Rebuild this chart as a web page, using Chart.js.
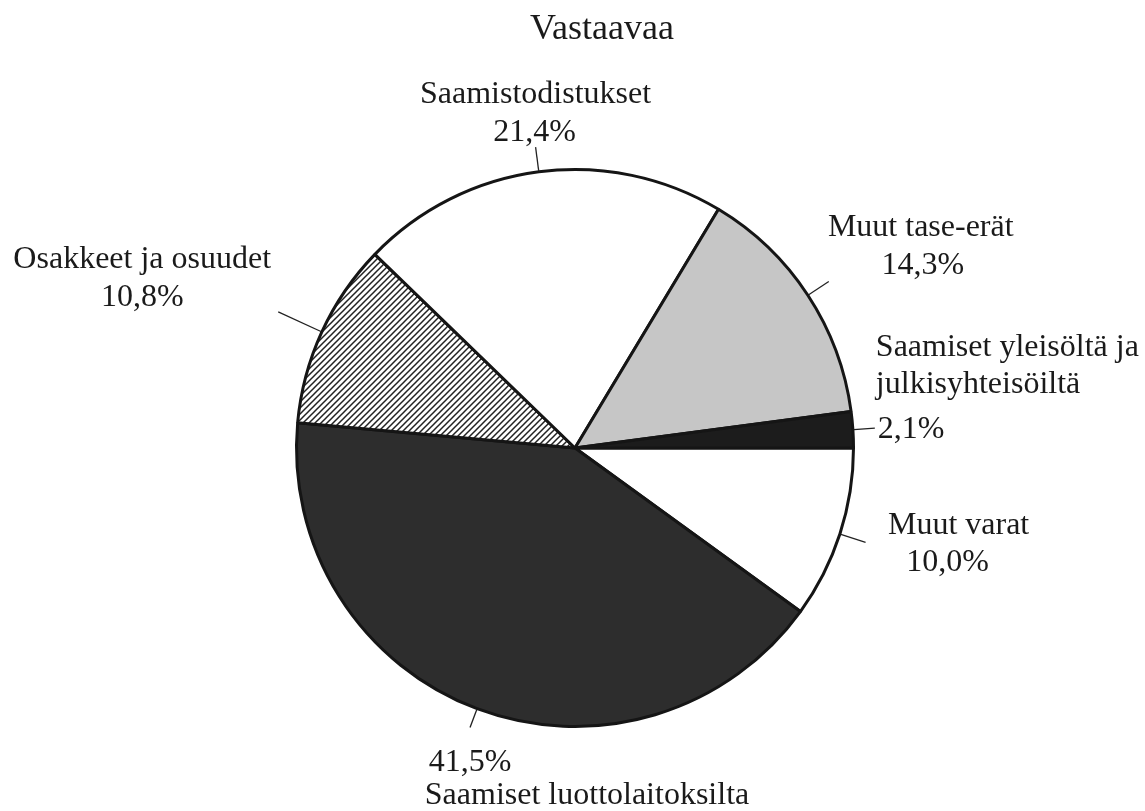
<!doctype html>
<html lang="fi">
    <head>
        <meta charset="UTF-8" />
        <title>Vastaavaa</title>
        <script src="https://cdn.jsdelivr.net/npm/chart.js"></script>
        <style>
            body { margin: 0; background: #fff; }
        </style>
    </head>

    <body>
        <canvas id="pie" width="1145" height="811"></canvas>
        <script>
            // clockwise from 3 o'clock
            const categories = [
                'Muut varat',
                'Saamiset luottolaitoksilta',
                'Osakkeet ja osuudet',
                'Saamistodistukset',
                'Muut tase-erät',
                'Saamiset yleisöltä ja julkisyhteisöiltä',
            ]
            const values = [10.0, 41.5, 10.8, 21.4, 14.3, 2.1]

            // how each label is broken into lines ('%' = the value)
            const labelLines = [
                ['Muut varat', '%'],
                ['%', 'Saamiset luottolaitoksilta'],
                ['Osakkeet ja osuudet', '%'],
                ['Saamistodistukset', '%'],
                ['Muut tase-erät', '%'],
                ['Saamiset yleisöltä ja', 'julkisyhteisöiltä', '%'],
            ]

            // leader length and per-line text offsets from the leader end
            const leaderLen = [27, 20, 48, 25, 25, 22]
            const lineOffsets = [
                [[93, -8], [82, 29]],
                [[0, 44], [117, 77]],
                [[-136, -44], [-136, -6]],
                [[0, -44], [-1, -6]],
                [[92, -46], [94, -8]],
                [[1, -72], [1, -35], [3, 10]],
            ]
            const lineAlign = ['center', 'center', 'center', 'center', 'center', 'left']

            function hatch() {
                const c = document.createElement('canvas')
                c.width = 6
                c.height = 6
                const g = c.getContext('2d')
                g.fillStyle = '#fff'
                g.fillRect(0, 0, 6, 6)
                g.strokeStyle = '#222'
                g.lineWidth = 1.5
                g.beginPath()
                g.moveTo(-1, 7)
                g.lineTo(7, -1)
                g.moveTo(-4, 4)
                g.lineTo(4, -4)
                g.moveTo(2, 10)
                g.lineTo(10, 2)
                g.stroke()
                return document.getElementById('pie').getContext('2d').createPattern(c, 'repeat')
            }

            const fills = ['#ffffff', '#2d2d2d', hatch(), '#ffffff', '#c6c6c6', '#1c1c1c']

            const fmt = (v) => v.toFixed(1).replace('.', ',') + '%'

            const labelPlugin = {
                id: 'labels',
                afterDraw(chart) {
                    const ctx = chart.ctx
                    const arcs = chart.getDatasetMeta(0).data
                    ctx.save()
                    ctx.fillStyle = '#1a1a1a'
                    ctx.font = '36px "Liberation Serif"'
                    ctx.textAlign = 'center'
                    ctx.textBaseline = 'alphabetic'
                    ctx.fillText('Vastaavaa', 602, 39)

                    ctx.font = '32px "Liberation Serif"'
                    arcs.forEach((arc, i) => {
                        const { x, y, startAngle, endAngle, outerRadius } = arc.getProps(['x', 'y', 'startAngle', 'endAngle', 'outerRadius'])
                        const mid = (startAngle + endAngle) / 2
                        const r0 = outerRadius + 1
                        const r1 = outerRadius + leaderLen[i]
                        const ex = x + Math.cos(mid) * r1
                        const ey = y + Math.sin(mid) * r1
                        ctx.strokeStyle = '#222'
                        ctx.lineWidth = 1.3
                        ctx.beginPath()
                        ctx.moveTo(x + Math.cos(mid) * r0, y + Math.sin(mid) * r0)
                        ctx.lineTo(ex, ey)
                        ctx.stroke()

                        ctx.textAlign = lineAlign[i]
                        labelLines[i].forEach((t, j) => {
                            const txt = t === '%' ? fmt(values[i]) : t
                            const [dx, dy] = lineOffsets[i][j]
                            ctx.fillText(txt, ex + dx, ey + dy)
                        })
                    })
                    ctx.restore()
                },
            }

            new Chart(document.getElementById('pie'), {
                type: 'pie',
                data: {
                    labels: categories,
                    datasets: [
                        {
                            data: values,
                            backgroundColor: fills,
                            borderColor: '#151515',
                            borderWidth: 3,
                        },
                    ],
                },
                options: {
                    responsive: false,
                    animation: false,
                    rotation: 90,
                    layout: {
                        padding: { top: 168, bottom: 83, left: 200, right: 195 },
                    },
                    plugins: {
                        legend: { display: false },
                        tooltip: { enabled: false },
                        title: { display: false },
                    },
                },
                plugins: [labelPlugin],
            })
        </script>
    </body>
</html>
